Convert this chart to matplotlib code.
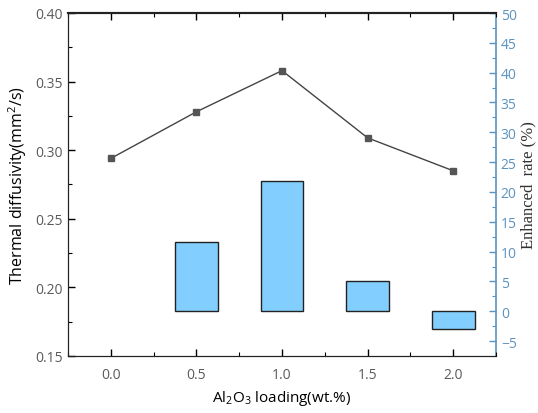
import matplotlib
matplotlib.use("Agg")
import matplotlib.pyplot as plt
from matplotlib.ticker import MultipleLocator

plt.rcParams['font.family'] = ['Open Sans', 'DejaVu Sans']
plt.rcParams['mathtext.fontset'] = 'custom'
plt.rcParams['mathtext.rm'] = 'Open Sans'
plt.rcParams['mathtext.it'] = 'Open Sans'

# data
loading = [0.0, 0.5, 1.0, 1.5, 2.0]
diffusivity = [0.294, 0.328, 0.358, 0.309, 0.285]
bar_loading = [0.5, 1.0, 1.5, 2.0]
enhanced_rate = [11.6, 21.8, 5.1, -2.9]

tick_grey = '#5a5a5a'
right_col = '#5b93c0'

fig = plt.figure(figsize=(5.38, 4.14), dpi=100)
ax = fig.add_axes([68 / 538, 1 - 357 / 414, (496 - 68) / 538, (357 - 14) / 414])
ax2 = ax.twinx()

# bars on the right axis, line on the left axis drawn above
ax2.bar(bar_loading, enhanced_rate, width=0.25, color='#82cfff',
        edgecolor='#222222', linewidth=1.0, zorder=2)
ax.set_zorder(ax2.get_zorder() + 1)
ax.patch.set_visible(False)
ax.plot(loading, diffusivity, color='#444444', linewidth=1.0,
        marker='s', markersize=5, markerfacecolor='#555555',
        markeredgecolor='#555555', zorder=3)

ax.set_xlim(-0.25, 2.25)
ax.set_ylim(0.15, 0.40)
ax2.set_ylim(-7.5, 50)

ax.xaxis.set_major_locator(MultipleLocator(0.5))
ax.xaxis.set_minor_locator(MultipleLocator(0.25))
ax.yaxis.set_major_locator(MultipleLocator(0.05))
ax.yaxis.set_minor_locator(MultipleLocator(0.025))
ax2.yaxis.set_major_locator(MultipleLocator(5))
ax2.yaxis.set_minor_locator(MultipleLocator(2.5))

ax.xaxis.set_major_formatter(plt.FormatStrFormatter('%.1f'))
ax.yaxis.set_major_formatter(plt.FormatStrFormatter('%.2f'))

ax.tick_params(axis='x', which='both', direction='in', top=True,
               labelsize=10, labelcolor=tick_grey, pad=8)
ax.tick_params(axis='y', which='both', direction='in', right=False,
               labelsize=10, labelcolor=tick_grey)
ax.tick_params(which='major', length=5, width=1)
ax.tick_params(which='minor', length=3, width=0.8)
ax2.tick_params(axis='y', which='both', direction='in', color=right_col,
                labelcolor=right_col, labelsize=10)
ax2.tick_params(which='major', length=5, width=1)
ax2.tick_params(which='minor', length=3, width=0.8)

for s in ['top', 'bottom', 'left']:
    ax.spines[s].set_color('#222222')
    ax2.spines[s].set_color('#222222')
ax.spines['top'].set_linewidth(1.5)
ax2.spines['top'].set_linewidth(1.5)
ax2.spines['right'].set_color(right_col)
ax2.spines['right'].set_linewidth(1.2)
ax.spines['right'].set_visible(False)

ax.set_xlabel('Al$_2$O$_3$ loading(wt.%)', fontsize=11)
ax.xaxis.set_label_coords(0.5, -0.093)
ax.set_ylabel('Thermal diffusivity(mm$^2$/s)', fontsize=11.5)
ax.yaxis.set_label_coords(-0.092, 0.5)
ax2.set_ylabel('Enhanced  rate (%)', fontsize=12, family='Liberation Serif',
               color='#333333')
ax2.yaxis.set_label_coords(1.058, 0.5)

fig.savefig('out.png', dpi=100)
